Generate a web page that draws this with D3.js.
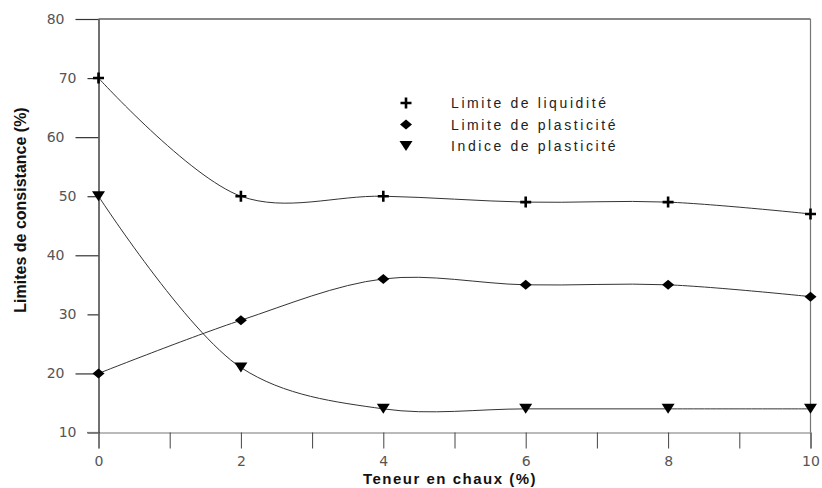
<!DOCTYPE html>
<html><head><meta charset="utf-8">
<script src="https://cdn.jsdelivr.net/npm/d3@7"></script>
<style>body{margin:0;background:#fff}svg{display:block}</style>
</head><body>
<svg id="c" width="822" height="488"></svg>
<script>
const teneur = [0, 2, 4, 6, 8, 10];
const limiteLiquidite = [70, 50, 50, 49, 49, 47];
const limitePlasticite = [20, 29, 36, 35, 35, 33];
const indicePlasticite = [50, 21, 14, 14, 14, 14];
const seriesNames = ["Limite de liquidité", "Limite de plasticité", "Indice de plasticité"];
const yTicks = [10, 20, 30, 40, 50, 60, 70, 80];
const xTicks = [0, 1, 2, 3, 4, 5, 6, 7, 8, 9, 10];
const xLabels = [0, 2, 4, 6, 8, 10];

const tickFont = "DejaVu Sans, Verdana, sans-serif";
const svg = d3.select("#c");
const x = d3.scaleLinear().domain([0, 10]).range([98.5, 810.5]);
const y = d3.scaleLinear().domain([10, 80]).range([432.5, 19]);

// frame
svg.append("line").attr("x1", 98.5).attr("x2", 810.5).attr("y1", y(80)).attr("y2", y(80)).attr("stroke", "#111").attr("stroke-width", 1.2);
svg.append("line").attr("x1", 810.5).attr("x2", 810.5).attr("y1", y(80)).attr("y2", y(10)).attr("stroke", "#777").attr("stroke-width", 1.2);

// x axis
const xAxis = svg.append("g").attr("transform", `translate(0,${y(10)})`)
  .call(d3.axisBottom(x).tickValues(xTicks).tickSize(16).tickFormat(d => xLabels.includes(d) ? d : ""));
xAxis.select(".domain").attr("stroke", "#777").attr("stroke-width", 1.2);
xAxis.selectAll(".tick line").attr("stroke", "#444");
xAxis.selectAll("text").attr("font-family", tickFont).attr("font-size", 14).attr("fill", "#555").attr("y", 24).attr("dy", "0.71em");

// y axis
const yAxis = svg.append("g").attr("transform", `translate(${x(0)},0)`)
  .call(d3.axisLeft(y).tickValues(yTicks).tickSize(0).tickPadding(0));
yAxis.select(".domain").attr("stroke", "#111").attr("stroke-width", 1.2);
yAxis.selectAll(".tick").each(function(d) {
  const g = d3.select(this);
  const len = (d % 20 === 0) ? 23 : 11;
  g.append("line").attr("x1", -len).attr("x2", 0).attr("stroke", "#333").attr("stroke-width", 1.2);
  g.select("text").attr("x", -(len + 11));
});
yAxis.selectAll("text").attr("font-family", tickFont).attr("font-size", 14).attr("fill", "#555");
svg.append("line").attr("x1", 87).attr("x2", 98.5).attr("y1", y(10)).attr("y2", y(10)).attr("stroke", "#777").attr("stroke-width", 1.2);

// axis titles
svg.append("text").attr("x", 450).attr("y", 484).attr("text-anchor", "middle")
  .attr("font-family", "Liberation Sans, Arial, sans-serif").attr("font-weight", "bold").attr("font-size", 15)
  .attr("letter-spacing", 1.5).attr("fill", "#111")
  .text("Teneur en chaux (%)");
svg.append("text").attr("transform", "translate(26,210) rotate(-90)").attr("text-anchor", "middle")
  .attr("font-family", "Liberation Sans Narrow, Liberation Sans, Arial, sans-serif").attr("font-weight", "bold").attr("font-size", 16).attr("fill", "#111")
  .text("Limites de consistance (%)");

// curves
const data = [limiteLiquidite, limitePlasticite, indicePlasticite];
const line = d3.line().x(d => x(d[0])).y(d => y(d[1])).curve(d3.curveCatmullRom.alpha(0.5));
data.forEach(vals => {
  const pts = teneur.map((t, i) => [t, vals[i]]);
  svg.append("path").attr("d", line(pts)).attr("fill", "none").attr("stroke", "#333").attr("stroke-width", 1);
});

// markers
function drawMarker(g, type, cx, cy) {
  if (type === 0) {
    g.append("path").attr("d", `M${cx-5.5},${cy}H${cx+5.5}M${cx},${cy-5.5}V${cy+5.5}`).attr("stroke", "#000").attr("stroke-width", 2.6);
  } else if (type === 1) {
    g.append("path").attr("d", `M${cx-6},${cy}L${cx},${cy-5}L${cx+6},${cy}L${cx},${cy+5}Z`).attr("fill", "#000");
  } else {
    g.append("path").attr("d", `M${cx-6.5},${cy-5}L${cx+6.5},${cy-5}L${cx},${cy+5}Z`).attr("fill", "#000");
  }
}
const mg = svg.append("g");
data.forEach((vals, k) => {
  teneur.forEach((t, i) => drawMarker(mg, k, x(t), y(vals[i])));
});

// legend
const lg = svg.append("g");
seriesNames.forEach((name, k) => {
  const ly = 103 + k * 21.5;
  drawMarker(lg, k, 406, ly);
  lg.append("text").attr("x", 451).attr("y", ly + 5).attr("font-family", "Liberation Sans, Arial, sans-serif")
    .attr("font-size", 14).attr("letter-spacing", 2.6).attr("fill", "#222").text(name);
});
</script>
</body></html>
